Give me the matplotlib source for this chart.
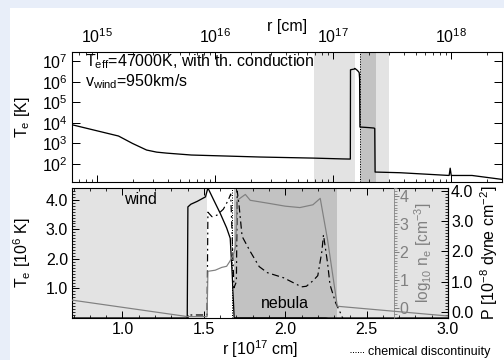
import numpy as np
import matplotlib
matplotlib.use('Agg')
import matplotlib.pyplot as plt
from matplotlib.ticker import MultipleLocator, LogLocator, NullFormatter, NullLocator, FixedLocator
from matplotlib.lines import Line2D
from matplotlib.patches import Rectangle

plt.rcParams['font.family'] = ['Liberation Sans', 'DejaVu Sans']
plt.rcParams['mathtext.fontset'] = 'custom'
plt.rcParams['mathtext.rm'] = 'Liberation Sans'
plt.rcParams['mathtext.it'] = 'Liberation Sans'
plt.rcParams['mathtext.bf'] = 'Liberation Sans'
plt.rcParams['mathtext.default'] = 'regular'

FS = 16

# ---------------- data (r in 1e17 cm) ----------------
r_te = [0.0062, 0.0152, 0.020, 0.0263, 0.032, 0.0389, 0.063, 0.24, 0.68, 1.20, 1.398,
        1.402, 1.42, 1.46, 1.51, 1.525, 1.56, 1.60, 1.64, 1.662, 1.675, 1.686, 2.0,
        2.22, 2.25, 2.265, 3.7, 9.6, 9.8, 10.0, 15.0, 27.0]
te_k = [8000, 2300, 1000, 480, 380, 340, 275, 220, 195, 178, 175,
        3.76e6, 3.85e6, 3.95e6, 4.1e6, 4.4e6, 4.0e6, 3.55e6, 3.05e6, 2.7e6, 1.4e6, 6300, 5900,
        5600, 5300, 41, 38, 28, 63, 28, 28, 18]

r_ne = [0.69, 1.40, 1.52, 1.525, 1.57, 1.61, 1.64, 1.66, 1.68, 1.695, 1.705, 1.755,
        1.785, 1.90, 2.00, 2.09, 2.17, 2.215, 2.26, 2.32, 3.1]
log_ne = [0.29, -0.30, -0.30, 1.32, 1.36, 1.46, 1.50, 1.68, 1.9, 2.2, 3.86, 4.07,
          3.86, 3.75, 3.65, 3.6, 3.7, 3.93, 2.45, 0.07, -0.33]

r_p = [0.69, 1.398, 1.40, 1.52, 1.525, 1.55, 1.58, 1.62, 1.65, 1.665, 1.685, 1.70,
       1.705, 1.715, 1.735, 1.785, 1.84, 1.89, 1.99, 2.10, 2.13, 2.17, 2.20, 2.225,
       2.235, 2.26, 2.275, 2.31, 2.345, 2.36, 3.1]
p_val = [-0.3, -0.3, -0.1, -0.1, 3.3, 3.15, 3.2, 3.4, 3.7, 3.9, 0.8, 1.0,
         4.0, 3.6, 2.5, 2.0, 1.5, 1.3, 1.13, 0.83, 0.85, 1.03, 1.2, 2.0,
         2.55, 1.62, 0.9, 0.3, -0.1, -0.3, -0.3]

wind_span = (0.69, 1.52)
nebula_span = (1.685, 2.32)
outer_span = (2.32, 3.0)
chem_r = 1.675

# ---------------- figure ----------------
W, H = 504, 360
fig = plt.figure(figsize=(W / 72, H / 72), dpi=72)
fig.patch.set_facecolor('#e8eef9')
fig.add_artist(Rectangle((10 / W, 0), 1 - 10 / W, 1 - 8 / H, transform=fig.transFigure,
                         facecolor='white', edgecolor='none', zorder=-10))

def fx(px):
    return px / W

def fy(py):
    return 1 - py / H

LG = '#e3e3e3'
DG = '#c2c2c2'
GRAY = '#808080'

# ---------------- top panel ----------------
ax1 = fig.add_axes([fx(72), fy(182), fx(502) - fx(72), fy(52) - fy(182)])
ax1.set_facecolor('none')
ax1.set_xscale('log')
ax1.set_yscale('log')
ax1.set_xlim(10 ** 14.788, 10 ** 18.43)
ax1.set_ylim(10 ** 1.13, 10 ** 7.44)
ax1.axvspan(wind_span[0] * 1e17, wind_span[1] * 1e17, color=LG, lw=0, zorder=0)
ax1.axvspan(outer_span[0] * 1e17, outer_span[1] * 1e17, color=LG, lw=0, zorder=0)
ax1.axvspan(nebula_span[0] * 1e17, nebula_span[1] * 1e17, color=DG, lw=0, zorder=0)
ax1.axvline(chem_r * 1e17, color='k', ls=(0, (1, 1.5)), lw=1.0, zorder=2)
ax1.plot(np.array(r_te) * 1e17, te_k, color='k', lw=1.3, zorder=3)
ax1.xaxis.set_ticks_position('both')
ax1.tick_params(axis='x', which='both', direction='in', labeltop=True, labelbottom=False,
                labelsize=FS, pad=6)
ax1.tick_params(axis='x', which='major', length=7, width=1)
ax1.tick_params(axis='x', which='minor', length=3, width=0.8)
ax1.xaxis.set_major_locator(LogLocator(base=10, numticks=10))
ax1.xaxis.set_minor_locator(LogLocator(base=10, subs=np.arange(2, 10), numticks=20))
ax1.xaxis.set_minor_formatter(NullFormatter())
ax1.yaxis.set_ticks_position('both')
ax1.yaxis.set_major_locator(FixedLocator([1e2, 1e3, 1e4, 1e5, 1e6, 1e7]))
ax1.yaxis.set_minor_locator(NullLocator())
ax1.tick_params(axis='y', which='major', direction='in', length=8, width=1,
                labelsize=FS, pad=4)
for s in ax1.spines.values():
    s.set_linewidth(1.1)
fig.text(fx(22), fy(117), 'T$_e$ [K]', rotation=90, ha='center', va='center', fontsize=FS)
fig.text(fx(287), fy(27), 'r [cm]', ha='center', va='center', fontsize=FS)
ax1.text(0.030, 0.923, 'T$_{eff}$=47000K, with th. conduction', transform=ax1.transAxes,
         ha='left', va='center', fontsize=FS, zorder=5)
ax1.text(0.030, 0.769, 'v$_{wind}$=950km/s', transform=ax1.transAxes,
         ha='left', va='center', fontsize=FS, zorder=5)

# ---------------- bottom panel ----------------
ax2 = fig.add_axes([fx(72), fy(318), fx(448) - fx(72), fy(188) - fy(318)])
ax2.set_xlim(0.69, 3.0)
ax2.set_ylim(0.0, 4.4)
ax2.axvspan(*wind_span, color=LG, lw=0, zorder=0)
ax2.axvspan(*outer_span, color=LG, lw=0, zorder=0)
ax2.axvspan(*nebula_span, color=DG, lw=0, zorder=0)
ax2.axvline(chem_r, color='k', ls=(0, (1, 1.5)), lw=1.0, zorder=2)
ax2.plot(r_te, np.array(te_k) / 1e6, color='k', lw=1.3, zorder=3)
ax2.xaxis.set_major_locator(MultipleLocator(0.5))
ax2.xaxis.set_minor_locator(MultipleLocator(0.1))
ax2.yaxis.set_major_locator(FixedLocator([1.0, 2.0, 3.0, 4.0]))
ax2.yaxis.set_minor_locator(MultipleLocator(0.1))
ax2.xaxis.set_major_formatter(plt.FuncFormatter(lambda v, p: f'{v:.1f}'))
ax2.yaxis.set_major_formatter(plt.FuncFormatter(lambda v, p: f'{v:.1f}'))
ax2.tick_params(axis='x', which='both', direction='in', top=True, labelsize=FS, pad=4)
ax2.tick_params(axis='y', which='both', direction='in', right=False, labelsize=FS, pad=4)
ax2.tick_params(which='major', length=7, width=1)
ax2.tick_params(which='minor', length=3, width=0.8)
for s in ax2.spines.values():
    s.set_linewidth(1.1)
ax2.text(1.11, 4.0, 'wind', ha='center', va='center', fontsize=FS, zorder=5)
ax2.text(2.0, 0.5, 'nebula', ha='center', va='center', fontsize=FS, zorder=5)
fig.text(fx(22), fy(253), 'T$_e$ [10$^6$ K]', rotation=90, ha='center', va='center', fontsize=FS)
fig.text(fx(260), fy(349), 'r [10$^{17}$ cm]', ha='center', va='center', fontsize=FS)

# pressure axis
axP = ax2.twinx()
axP.set_ylim(-0.2, 4.1)
axP.plot(r_p, p_val, color='k', lw=1.2, ls=(0, (6, 3, 1.5, 3)), zorder=3)
for k in ['left', 'top', 'bottom']:
    axP.spines[k].set_visible(False)
axP.spines['right'].set_linewidth(1.1)
axP.yaxis.set_major_locator(FixedLocator([0.0, 1.0, 2.0, 3.0, 4.0]))
axP.yaxis.set_minor_locator(MultipleLocator(0.1))
axP.yaxis.set_major_formatter(plt.FuncFormatter(lambda v, p: f'{v:.1f}'))
axP.tick_params(axis='y', which='both', direction='in', labelsize=FS, pad=3)
axP.tick_params(which='major', length=7, width=1)
axP.tick_params(which='minor', length=3, width=0.8)
fig.text(fx(489), fy(253), 'P [10$^{-8}$ dyne cm$^{-2}$]', rotation=90, ha='center',
         va='center', fontsize=FS)

# density axis
axN = ax2.twinx()
axN.set_ylim(-0.35, 4.3)
axN.plot(r_ne, log_ne, color=GRAY, lw=1.2, zorder=3)
for k in ['left', 'top', 'bottom']:
    axN.spines[k].set_visible(False)
axN.spines['right'].set_position(('axes', (394 - 72) / (448 - 72)))
axN.spines['right'].set_color(GRAY)
axN.yaxis.set_major_locator(FixedLocator([0, 1, 2, 3, 4]))
axN.yaxis.set_minor_locator(MultipleLocator(0.1))
axN.tick_params(axis='y', which='both', direction='out', colors=GRAY, labelsize=FS, pad=0.5)
axN.tick_params(which='major', length=5, width=1)
axN.tick_params(which='minor', length=3, width=0.8)
fig.text(fx(423), fy(253), 'log$_{10}$ n$_e$ [cm$^{-3}$]', rotation=90, ha='center',
         va='center', fontsize=FS - 0.5, color=GRAY)

# chemical discontinuity key
fig.add_artist(Line2D([fx(350), fx(364)], [fy(352), fy(352)], color='k',
                      ls=(0, (1, 1.5)), lw=1.0, transform=fig.transFigure))
fig.text(fx(368), fy(352), 'chemical discontinuity', ha='left', va='center', fontsize=12.5)

fig.savefig('out.png', dpi=72, facecolor=fig.get_facecolor())
